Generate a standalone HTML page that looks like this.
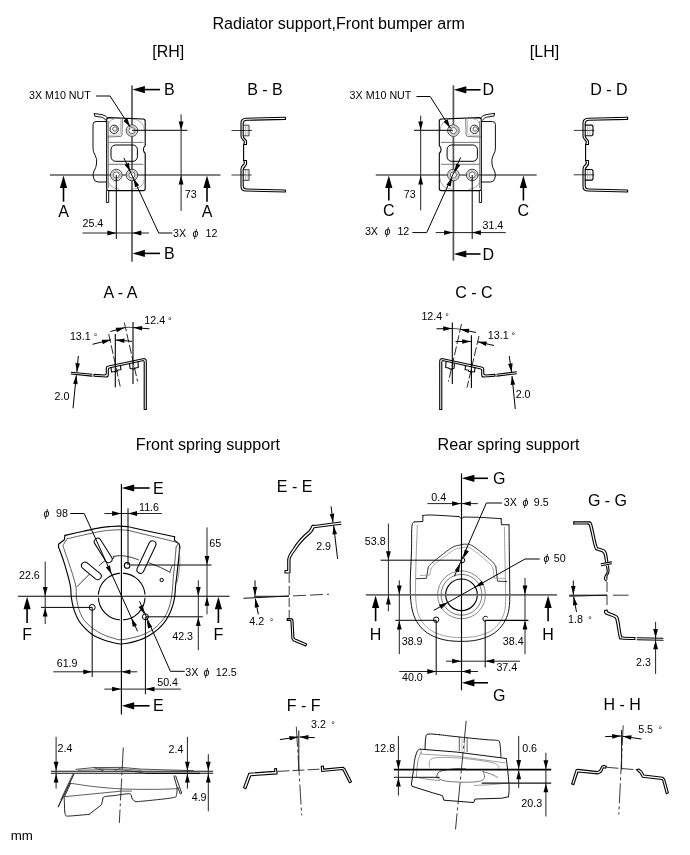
<!DOCTYPE html>
<html><head><meta charset="utf-8"><title>Body dimensions</title>
<style>html,body{margin:0;padding:0;background:#fff}svg{display:block;filter:grayscale(1)}text{font-family:"Liberation Sans",sans-serif;fill:#000}</style>
</head><body>
<svg width="690" height="855" viewBox="0 0 690 855">
<rect width="690" height="855" fill="#fff"/>
<text x="338.7" y="28.6" font-size="16.12" text-anchor="middle">Radiator support,Front bumper arm</text>
<text x="168.2" y="57" font-size="16" text-anchor="middle">[RH]</text>
<text x="544.5" y="57" font-size="16" text-anchor="middle">[LH]</text>
<text x="207.9" y="449.8" font-size="16.12" text-anchor="middle">Front spring support</text>
<text x="508.6" y="449.8" font-size="16.18" text-anchor="middle">Rear spring support</text>
<text x="10.8" y="840" font-size="13.3" text-anchor="start">mm</text>
<line x1="132" y1="85.5" x2="132" y2="261.7" stroke="#555" stroke-width="1.7"/>
<line x1="50" y1="175" x2="220.5" y2="175" stroke="#5a5a5a" stroke-width="1.7"/>
<line x1="160" y1="89.6" x2="138.4" y2="89.6" stroke="#000" stroke-width="1.6"/>
<polygon points="132.4,89.6 144.9,86 144.9,93.2" fill="#000"/>
<text x="164" y="94.8" font-size="16" text-anchor="start">B</text>
<line x1="160" y1="253.4" x2="138.4" y2="253.4" stroke="#000" stroke-width="1.6"/>
<polygon points="132.4,253.4 144.9,249.8 144.9,257" fill="#000"/>
<text x="164" y="259.1" font-size="16" text-anchor="start">B</text>
<line x1="63.5" y1="201.7" x2="63.5" y2="181.6" stroke="#000" stroke-width="1.6"/>
<polygon points="63.5,175.6 67.1,188.1 59.9,188.1" fill="#000"/>
<text x="63.5" y="216.8" font-size="16" text-anchor="middle">A</text>
<line x1="207" y1="201.7" x2="207" y2="181.6" stroke="#000" stroke-width="1.6"/>
<polygon points="207,175.6 210.6,188.1 203.4,188.1" fill="#000"/>
<text x="207" y="216.8" font-size="16" text-anchor="middle">A</text>
<path d="M106.7 121.5 L96 121.5 Q93 121.5 93 124.5 L93 148 Q93 152 95 155 Q97.5 159 96.5 164 Q96 168 94 171 Q92.5 174 93.5 178 Q94.5 182 98 182 L106.7 182" fill="none" stroke="#111" stroke-width="1" stroke-linejoin="round" stroke-linecap="round"/>
<path d="M94.3 113.6 L102 114.6 Q105.5 115.3 108 118.3" fill="none" stroke="#111" stroke-width="1" stroke-linejoin="round" stroke-linecap="round"/>
<path d="M94.3 113.6 L94.8 116.2 L101.5 117.2 Q104 117.8 105.8 120" fill="none" stroke="#111" stroke-width="1" stroke-linejoin="round" stroke-linecap="round"/>
<path d="M109 117.6 L143 119 Q145.2 119.1 145.2 121.2 L145.2 145.6 Q143.2 147.5 143.4 149.5 Q143.4 151.6 145.2 153.5 L145.2 188.4 Q145.2 190.6 143 190.6 L109 190.6 Q106.7 190.6 106.7 188.4 L106.7 119.8 Q106.7 117.6 109 117.6 Z" fill="none" stroke="#000" stroke-width="1.1" stroke-linejoin="round" stroke-linecap="round"/>
<line x1="108.3" y1="121" x2="108.3" y2="188" stroke="#555" stroke-width="0.8"/>
<line x1="108.5" y1="142.4" x2="143.5" y2="142.4" stroke="#555" stroke-width="0.8"/>
<line x1="108.5" y1="164.3" x2="143.5" y2="164.3" stroke="#555" stroke-width="0.8"/>
<rect x="111" y="145" width="26.4" height="16.3" rx="4.5" ry="4.5" fill="none" stroke="#000" stroke-width="1"/>
<path d="M133 119 Q144 120 144.6 131" fill="none" stroke="#888" stroke-width="0.7" stroke-linejoin="round" stroke-linecap="round"/>
<path d="M144.6 178 Q144 188.5 133 189.3" fill="none" stroke="#888" stroke-width="0.7" stroke-linejoin="round" stroke-linecap="round"/>
<path d="M107.5 178 Q108.5 188.5 119 189.3" fill="none" stroke="#888" stroke-width="0.7" stroke-linejoin="round" stroke-linecap="round"/>
<path d="M107.6 127 Q108.5 120 114 119" fill="none" stroke="#888" stroke-width="0.7" stroke-linejoin="round" stroke-linecap="round"/>
<path d="M122.4 118.5 L122 134.5 Q122 136.5 120 136.5 L107 137" fill="none" stroke="#666" stroke-width="0.9" stroke-linejoin="round" stroke-linecap="round"/>
<path d="M120.8 118.5 L120.4 133.5 Q120.4 135 119 135 L107.5 135.4" fill="none" stroke="#999" stroke-width="0.6" stroke-linejoin="round" stroke-linecap="round"/>
<circle cx="114.2" cy="129.3" r="4.2" fill="none" stroke="#222" stroke-width="1"/>
<circle cx="114.9" cy="129" r="2.2" fill="none" stroke="#444" stroke-width="0.9"/>
<circle cx="131.9" cy="130.6" r="5.8" fill="#fff" stroke="#444" stroke-width="1"/>
<circle cx="131.9" cy="130.6" r="4.4" fill="none" stroke="#aaa" stroke-width="0.9"/>
<circle cx="131.9" cy="130.6" r="3.1" fill="none" stroke="#555" stroke-width="0.9"/>
<circle cx="116.3" cy="175" r="5.8" fill="#fff" stroke="#444" stroke-width="1"/>
<circle cx="116.3" cy="175" r="4.4" fill="none" stroke="#aaa" stroke-width="0.9"/>
<circle cx="116.3" cy="175" r="3.1" fill="none" stroke="#555" stroke-width="0.9"/>
<circle cx="131.9" cy="175" r="5.8" fill="#fff" stroke="#444" stroke-width="1"/>
<circle cx="131.9" cy="175" r="4.4" fill="none" stroke="#aaa" stroke-width="0.9"/>
<circle cx="131.9" cy="175" r="3.1" fill="none" stroke="#555" stroke-width="0.9"/>
<path d="M106.4 190.6 L106.4 202.5 L108.7 202.5 L108.7 190.6" fill="none" stroke="#111" stroke-width="1" stroke-linejoin="round" stroke-linecap="round"/>
<text x="29" y="98.6" font-size="10.7" text-anchor="start">3X M10 NUT</text>
<line x1="96" y1="96" x2="110" y2="96" stroke="#000" stroke-width="1"/>
<line x1="110" y1="96" x2="130.2" y2="127" stroke="#000" stroke-width="1"/>
<polygon points="130.2,127 123.47,120.88 127.32,118.37" fill="#000"/>
<line x1="132" y1="130.3" x2="187.4" y2="130.3" stroke="#000" stroke-width="1"/>
<line x1="181.1" y1="114.4" x2="181.1" y2="210.9" stroke="#222" stroke-width="1"/>
<polygon points="181.1,130.3 178.7,121.4 183.5,121.4" fill="#000"/>
<polygon points="181.1,175.6 183.5,184.5 178.7,184.5" fill="#000"/>
<text x="184.8" y="198.4" font-size="10.7" text-anchor="start">73</text>
<line x1="116.3" y1="175" x2="116.3" y2="239" stroke="#000" stroke-width="1"/>
<line x1="82.5" y1="233" x2="149" y2="233" stroke="#222" stroke-width="1"/>
<polygon points="116.3,233 107.4,235.4 107.4,230.6" fill="#000"/>
<polygon points="132.4,233 141.3,230.6 141.3,235.4" fill="#000"/>
<text x="82.5" y="227.3" font-size="10.7" text-anchor="start">25.4</text>
<path d="M124 158.2 L158.7 233 L172 233" fill="none" stroke="#000" stroke-width="1" stroke-linejoin="round" stroke-linecap="round"/>
<polygon points="130.4,171.7 124.61,164.69 128.78,162.75" fill="#000"/>
<polygon points="133.4,178.3 139.19,185.31 135.02,187.25" fill="#000"/>
<text x="173" y="237" font-size="10.7">3X<tspan dx="6.5" font-style="italic">&#981;</tspan><tspan dx="7">12</tspan></text>
<text x="265" y="94.6" font-size="16" text-anchor="middle">B - B</text>
<line x1="231.5" y1="130.5" x2="252" y2="130.5" stroke="#222" stroke-width="0.9"/>
<line x1="231.5" y1="175" x2="251.5" y2="175" stroke="#222" stroke-width="0.9"/>
<path d="M285.4 117.3 L246 118.2 Q241 118.4 241 123 L241 136 Q241 138.5 243 140 Q245 141.5 244 143.5 L243.6 144.5 L243.6 160.5 L244 161.5 Q245 163.5 243 165 Q241 166.5 241 169 L241 186.5 Q241 191 246 191 L285.4 192 L285.4 190 L247 189 Q243.2 189 243.2 186 L243.2 170 Q243.2 168 245 166.5 Q247 165 246.5 162 L246.5 160.5 L244 160.5" fill="none" stroke="#000" stroke-width="1.1" stroke-linejoin="round" stroke-linecap="round"/>
<path d="M244 144.5 L246.5 144.5 L246.5 143 Q247 140.5 245 139 Q243.2 137.5 243.2 135.5 L243.2 123.5 Q243.2 120.4 247 120.3 L285.4 119.4 L285.4 117.3" fill="none" stroke="#000" stroke-width="1.1" stroke-linejoin="round" stroke-linecap="round"/>
<path d="M243.2 125.2 L249 125.2 L249 135.8 L243.2 135.8" fill="none" stroke="#222" stroke-width="0.9" stroke-linejoin="round" stroke-linecap="round"/>
<line x1="245.5" y1="125.5" x2="245.5" y2="135.5" stroke="#888" stroke-width="0.6"/>
<line x1="247.3" y1="125.5" x2="247.3" y2="135.5" stroke="#aaa" stroke-width="0.6"/>
<path d="M243.2 169.7 L249 169.7 L249 180.3 L243.2 180.3" fill="none" stroke="#222" stroke-width="0.9" stroke-linejoin="round" stroke-linecap="round"/>
<line x1="245.5" y1="170" x2="245.5" y2="180" stroke="#888" stroke-width="0.6"/>
<line x1="247.3" y1="170" x2="247.3" y2="180" stroke="#aaa" stroke-width="0.6"/>
<line x1="453.4" y1="85.3" x2="453.4" y2="260.7" stroke="#555" stroke-width="1.7"/>
<line x1="375.7" y1="175" x2="536.7" y2="175" stroke="#5a5a5a" stroke-width="1.7"/>
<line x1="480.5" y1="89.8" x2="459.8" y2="89.8" stroke="#000" stroke-width="1.6"/>
<polygon points="453.8,89.8 466.3,86.2 466.3,93.4" fill="#000"/>
<text x="482.5" y="94.9" font-size="16" text-anchor="start">D</text>
<line x1="480.5" y1="254" x2="459.8" y2="254" stroke="#000" stroke-width="1.6"/>
<polygon points="453.8,254 466.3,250.4 466.3,257.6" fill="#000"/>
<text x="482.5" y="259.7" font-size="16" text-anchor="start">D</text>
<line x1="388.8" y1="200.5" x2="388.8" y2="181.6" stroke="#000" stroke-width="1.6"/>
<polygon points="388.8,175.6 392.4,188.1 385.2,188.1" fill="#000"/>
<text x="388.8" y="216" font-size="16" text-anchor="middle">C</text>
<line x1="523.4" y1="200.5" x2="523.4" y2="181.6" stroke="#000" stroke-width="1.6"/>
<polygon points="523.4,175.6 527,188.1 519.8,188.1" fill="#000"/>
<text x="523.4" y="216" font-size="16" text-anchor="middle">C</text>
<path d="M481.3 121.5 L492.4 121.5 Q495.4 121.5 495.4 124.5 L495.4 148 Q495.4 152 493.4 155 Q491 159 492 164 Q492.5 168 494.5 171 Q496 174 495 178 Q494 182 490.5 182 L481.3 182" fill="none" stroke="#111" stroke-width="1" stroke-linejoin="round" stroke-linecap="round"/>
<path d="M494.6 113.4 L486 114.6 Q482.5 115.3 480.3 118.3" fill="none" stroke="#111" stroke-width="1" stroke-linejoin="round" stroke-linecap="round"/>
<path d="M494.6 113.4 L494.1 116 L486.6 117.2 Q484.2 117.8 482.5 120" fill="none" stroke="#111" stroke-width="1" stroke-linejoin="round" stroke-linecap="round"/>
<path d="M441.5 119 L479 117.6 Q481.3 117.6 481.3 119.8 L481.3 188.4 Q481.3 190.6 479 190.6 L441.5 190.6 Q439.3 190.6 439.3 188.4 L439.3 153.5 Q441.1 151.6 441.1 149.5 Q441.3 147.5 439.3 145.6 L439.3 121.2 Q439.3 119.1 441.5 119 Z" fill="none" stroke="#000" stroke-width="1.1" stroke-linejoin="round" stroke-linecap="round"/>
<line x1="479.7" y1="121" x2="479.7" y2="188" stroke="#555" stroke-width="0.8"/>
<line x1="441" y1="142.4" x2="479.5" y2="142.4" stroke="#555" stroke-width="0.8"/>
<line x1="441" y1="164.3" x2="479.5" y2="164.3" stroke="#555" stroke-width="0.8"/>
<rect x="447.1" y="145" width="30.3" height="16.3" rx="4.5" ry="4.5" fill="none" stroke="#000" stroke-width="1"/>
<path d="M451.5 119 Q440.5 120 439.9 131" fill="none" stroke="#888" stroke-width="0.7" stroke-linejoin="round" stroke-linecap="round"/>
<path d="M439.9 178 Q440.5 188.5 451.5 189.3" fill="none" stroke="#888" stroke-width="0.7" stroke-linejoin="round" stroke-linecap="round"/>
<path d="M480.5 178 Q479.5 188.5 469 189.3" fill="none" stroke="#888" stroke-width="0.7" stroke-linejoin="round" stroke-linecap="round"/>
<path d="M480.4 127 Q479.5 120 474 119" fill="none" stroke="#888" stroke-width="0.7" stroke-linejoin="round" stroke-linecap="round"/>
<path d="M465.7 118.5 L466.1 134.5 Q466.1 136.5 468.1 136.5 L481 137" fill="none" stroke="#666" stroke-width="0.9" stroke-linejoin="round" stroke-linecap="round"/>
<path d="M467.3 118.5 L467.7 133.5 Q467.7 135 469.1 135 L480.5 135.4" fill="none" stroke="#999" stroke-width="0.6" stroke-linejoin="round" stroke-linecap="round"/>
<circle cx="474.5" cy="129.3" r="4.2" fill="none" stroke="#222" stroke-width="1"/>
<circle cx="475.2" cy="129" r="2.2" fill="none" stroke="#444" stroke-width="0.9"/>
<circle cx="453.4" cy="130.6" r="5.8" fill="#fff" stroke="#444" stroke-width="1"/>
<circle cx="453.4" cy="130.6" r="4.4" fill="none" stroke="#aaa" stroke-width="0.9"/>
<circle cx="453.4" cy="130.6" r="3.1" fill="none" stroke="#555" stroke-width="0.9"/>
<circle cx="453.4" cy="175" r="5.8" fill="#fff" stroke="#444" stroke-width="1"/>
<circle cx="453.4" cy="175" r="4.4" fill="none" stroke="#aaa" stroke-width="0.9"/>
<circle cx="453.4" cy="175" r="3.1" fill="none" stroke="#555" stroke-width="0.9"/>
<circle cx="472.2" cy="175" r="5.8" fill="#fff" stroke="#444" stroke-width="1"/>
<circle cx="472.2" cy="175" r="4.4" fill="none" stroke="#aaa" stroke-width="0.9"/>
<circle cx="472.2" cy="175" r="3.1" fill="none" stroke="#555" stroke-width="0.9"/>
<path d="M481.6 190.6 L481.6 202.5 L479.3 202.5 L479.3 190.6" fill="none" stroke="#111" stroke-width="1" stroke-linejoin="round" stroke-linecap="round"/>
<text x="349.6" y="98.7" font-size="10.7" text-anchor="start">3X M10 NUT</text>
<line x1="416.5" y1="96.5" x2="430.2" y2="96.5" stroke="#000" stroke-width="1"/>
<line x1="430.2" y1="96.5" x2="450.3" y2="128" stroke="#000" stroke-width="1"/>
<polygon points="450.3,128 443.63,121.82 447.51,119.34" fill="#000"/>
<line x1="414" y1="130.3" x2="453" y2="130.3" stroke="#000" stroke-width="1"/>
<line x1="420.7" y1="115.6" x2="420.7" y2="210.3" stroke="#222" stroke-width="1"/>
<polygon points="420.7,130.3 418.3,121.4 423.1,121.4" fill="#000"/>
<polygon points="420.7,175.6 423.1,184.5 418.3,184.5" fill="#000"/>
<text x="403.8" y="198.3" font-size="10.7" text-anchor="start">73</text>
<line x1="472.2" y1="175" x2="472.2" y2="239" stroke="#000" stroke-width="1"/>
<line x1="435.7" y1="232.6" x2="505.8" y2="232.6" stroke="#222" stroke-width="1"/>
<polygon points="453,232.6 444.1,235 444.1,230.2" fill="#000"/>
<polygon points="472,232.6 480.9,230.2 480.9,235" fill="#000"/>
<text x="482.5" y="228.5" font-size="10.7" text-anchor="start">31.4</text>
<path d="M412.7 232.6 L426.7 232.6 L460.5 157.7" fill="none" stroke="#000" stroke-width="1" stroke-linejoin="round" stroke-linecap="round"/>
<polygon points="454.6,172.4 456.12,163.43 460.32,165.32" fill="#000"/>
<polygon points="452.2,177.6 450.68,186.57 446.48,184.68" fill="#000"/>
<text x="364.9" y="235.3" font-size="10.7">3X<tspan dx="6.5" font-style="italic">&#981;</tspan><tspan dx="7">12</tspan></text>
<text x="609" y="94.6" font-size="16" text-anchor="middle">D - D</text>
<line x1="573.7" y1="130.4" x2="594.3" y2="130.4" stroke="#222" stroke-width="0.9"/>
<line x1="573.7" y1="174.8" x2="594.3" y2="174.8" stroke="#222" stroke-width="0.9"/>
<path d="M627.6 117.3 L588 118.2 Q583 118.4 583 123 L583 136 Q583 138.5 585 140 Q587 141.5 586 143.5 L585.6 144.5 L585.6 160.5 L586 161.5 Q587 163.5 585 165 Q583 166.5 583 169 L583 186.5 Q583 191 588 191 L627.6 192 L627.6 190 L589 189 Q585.2 189 585.2 186 L585.2 170 Q585.2 168 587 166.5 Q589 165 588.5 162 L588.5 160.5 L586 160.5" fill="none" stroke="#000" stroke-width="1.1" stroke-linejoin="round" stroke-linecap="round"/>
<path d="M586 144.5 L588.5 144.5 L588.5 143 Q589 140.5 587 139 Q585.2 137.5 585.2 135.5 L585.2 123.5 Q585.2 120.4 589 120.3 L627.6 119.4 L627.6 117.3" fill="none" stroke="#000" stroke-width="1.1" stroke-linejoin="round" stroke-linecap="round"/>
<path d="M585.2 125.1 L592 125.1 L593 126.4 L593 134.4 L592 135.7 L585.2 135.7" fill="none" stroke="#000" stroke-width="1.1" stroke-linejoin="round" stroke-linecap="round"/>
<line x1="587.5" y1="125.4" x2="587.5" y2="135.4" stroke="#888" stroke-width="0.6"/>
<line x1="590" y1="125.4" x2="590" y2="135.4" stroke="#999" stroke-width="0.6"/>
<path d="M585.2 169.5 L592 169.5 L593 170.8 L593 178.8 L592 180.1 L585.2 180.1" fill="none" stroke="#000" stroke-width="1.1" stroke-linejoin="round" stroke-linecap="round"/>
<line x1="587.5" y1="169.8" x2="587.5" y2="179.8" stroke="#888" stroke-width="0.6"/>
<line x1="590" y1="169.8" x2="590" y2="179.8" stroke="#999" stroke-width="0.6"/>
<text x="120.5" y="298.1" font-size="16" text-anchor="middle">A - A</text>
<path d="M71.3 372.2 L92 374.3" fill="none" stroke="#000" stroke-width="1.1" stroke-linejoin="round" stroke-linecap="round"/>
<path d="M71.3 374 L92 376.1" fill="none" stroke="#000" stroke-width="1.1" stroke-linejoin="round" stroke-linecap="round"/>
<path d="M94 374.4 L104.5 375 Q106.3 375 106.3 373 L106.3 368 Q106.3 366.3 108.5 366 L143 358.7 Q146.3 358.3 146.3 361.5 L146.3 409.5 L144.2 409.5 L144.2 362 Q144.2 360.3 142.5 360.7 L110 367.7 Q108.3 368 108.3 369.5 L108.3 375 Q108.3 377 106.3 377 L94 376.3 Z" fill="none" stroke="#000" stroke-width="1.1" stroke-linejoin="round" stroke-linecap="round"/>
<path d="M111 367.6 L111.5 372 L117.4 371.3 L117.7 370 L120.9 369.7 L120.5 365.6" fill="none" stroke="#000" stroke-width="1.1" stroke-linejoin="round" stroke-linecap="round"/>
<path d="M129.6 363.6 L130 368.3 L133.3 369.3 L135.5 368 L138.3 367.5 L138 361.8" fill="none" stroke="#000" stroke-width="1.1" stroke-linejoin="round" stroke-linecap="round"/>
<line x1="115.3" y1="334" x2="115.3" y2="387.3" stroke="#000" stroke-width="1.1"/>
<line x1="133" y1="322" x2="133" y2="384" stroke="#000" stroke-width="1.1"/>
<line x1="108.7" y1="334" x2="120.2" y2="386.5" stroke="#111" stroke-width="0.9" stroke-dasharray="9 2.5"/>
<line x1="124.3" y1="322.5" x2="137.6" y2="381.5" stroke="#111" stroke-width="0.9" stroke-dasharray="9 2.5"/>
<line x1="110.5" y1="331.5" x2="124.8" y2="327.6" stroke="#000" stroke-width="1"/>
<polygon points="124.8,327.6 116.92,332.13 115.7,327.7" fill="#000"/>
<line x1="149.5" y1="328.8" x2="133.3" y2="327.6" stroke="#000" stroke-width="1"/>
<polygon points="133.3,327.6 142.25,325.96 141.91,330.54" fill="#000"/>
<path d="M124.8 327.6 Q129 326.8 133.3 327.6" fill="none" stroke="#222" stroke-width="0.8" stroke-linejoin="round" stroke-linecap="round"/>
<text x="144.3" y="324.2" font-size="10.7">12.4<tspan dx="3" font-size="9">&#176;</tspan></text>
<line x1="92.5" y1="344.3" x2="110.8" y2="339.8" stroke="#000" stroke-width="1"/>
<polygon points="110.8,339.8 102.8,344.13 101.71,339.67" fill="#000"/>
<line x1="132" y1="341.3" x2="115.6" y2="340" stroke="#000" stroke-width="1"/>
<polygon points="115.6,340 124.55,338.4 124.19,342.99" fill="#000"/>
<text x="69.9" y="340.1" font-size="10.7">13.1<tspan dx="3" font-size="9">&#176;</tspan></text>
<line x1="78.3" y1="356" x2="76.9" y2="372" stroke="#000" stroke-width="1"/>
<polygon points="76.9,372 75.38,363.03 79.96,363.43" fill="#000"/>
<line x1="73" y1="408.3" x2="76.3" y2="375.3" stroke="#000" stroke-width="1"/>
<polygon points="76.3,375.3 77.71,384.29 73.14,383.83" fill="#000"/>
<text x="54.5" y="400.4" font-size="10.7" text-anchor="start">2.0</text>
<text x="474" y="298" font-size="16" text-anchor="middle">C - C</text>
<path d="M516.5 371.8 L496.8 374.2" fill="none" stroke="#000" stroke-width="1.1" stroke-linejoin="round" stroke-linecap="round"/>
<path d="M516.5 373.7 L496.8 376.1" fill="none" stroke="#000" stroke-width="1.1" stroke-linejoin="round" stroke-linecap="round"/>
<path d="M495 374.4 L485.5 375 Q483.7 375 483.7 373 L483.7 369 Q483.7 367.3 481.5 367 L443 358.7 Q439.7 358.3 439.7 361.5 L439.7 409.5 L441.8 409.5 L441.8 362 Q441.8 360.3 443.5 360.7 L480 368.7 Q481.7 369 481.7 370.5 L481.7 375 Q481.7 377 483.7 377 L495 376.3 Z" fill="none" stroke="#000" stroke-width="1.1" stroke-linejoin="round" stroke-linecap="round"/>
<path d="M446 361.8 L445.7 367.5 L448.5 368 L450.7 369.3 L454 368.3 L454.4 363.6" fill="none" stroke="#000" stroke-width="1.1" stroke-linejoin="round" stroke-linecap="round"/>
<path d="M465.5 365.6 L465.1 369.7 L468.3 370 L468.6 371.3 L474.5 372 L475 367.6" fill="none" stroke="#000" stroke-width="1.1" stroke-linejoin="round" stroke-linecap="round"/>
<line x1="452.3" y1="322.5" x2="452.3" y2="384" stroke="#000" stroke-width="1.1"/>
<line x1="471.4" y1="335.3" x2="471.4" y2="388" stroke="#000" stroke-width="1.1"/>
<line x1="461.5" y1="324" x2="448.5" y2="381.5" stroke="#111" stroke-width="0.9" stroke-dasharray="9 2.5"/>
<line x1="479" y1="336" x2="467" y2="387.5" stroke="#111" stroke-width="0.9" stroke-dasharray="9 2.5"/>
<line x1="436.5" y1="328.8" x2="452" y2="328.5" stroke="#000" stroke-width="1"/>
<polygon points="452,328.5 443.25,330.97 443.16,326.37" fill="#000"/>
<line x1="476" y1="332.5" x2="460.3" y2="329.3" stroke="#000" stroke-width="1"/>
<polygon points="460.3,329.3 469.38,328.8 468.46,333.31" fill="#000"/>
<path d="M452 328.5 Q456 328.3 460.3 329.3" fill="none" stroke="#222" stroke-width="0.8" stroke-linejoin="round" stroke-linecap="round"/>
<text x="421.4" y="320" font-size="10.7">12.4<tspan dx="3" font-size="9">&#176;</tspan></text>
<line x1="455.5" y1="341.5" x2="471" y2="341.5" stroke="#000" stroke-width="1"/>
<polygon points="471,341.5 462.2,343.8 462.2,339.2" fill="#000"/>
<line x1="494" y1="345.5" x2="477.8" y2="341.8" stroke="#000" stroke-width="1"/>
<polygon points="477.8,341.8 486.89,341.52 485.87,346" fill="#000"/>
<text x="487.8" y="338.7" font-size="10.7">13.1<tspan dx="3" font-size="9">&#176;</tspan></text>
<line x1="509.2" y1="356" x2="511.6" y2="372.3" stroke="#000" stroke-width="1"/>
<polygon points="511.6,372.3 508.04,363.93 512.59,363.26" fill="#000"/>
<line x1="515.3" y1="409" x2="512" y2="376" stroke="#000" stroke-width="1"/>
<polygon points="512,376 515.16,384.53 510.59,384.99" fill="#000"/>
<text x="515.7" y="397.5" font-size="10.7" text-anchor="start">2.0</text>
<path d="M65.2 535.4 C68.25 534.7 77.58 532.5 83.5 531.2 C89.42 529.9 96.13 528.38 100.7 527.6 C105.27 526.82 107.85 526.75 110.9 526.5 C113.95 526.25 116.13 526.07 119 526.1 C121.87 526.13 125.07 526.25 128.1 526.7 C131.13 527.15 132.63 527.8 137.2 528.8 C141.77 529.8 149.27 531.38 155.5 532.7 C161.73 534.02 171.42 536.03 174.6 536.7" fill="none" stroke="#000" stroke-width="1.15" stroke-linejoin="round" stroke-linecap="round"/>
<path d="M174.6 536.7 L174.4 540.3 L179.13 543.86 L179.83 547.1" fill="none" stroke="#000" stroke-width="1.15" stroke-linejoin="round" stroke-linecap="round"/>
<path d="M179.83 547.1 C179.56 549.81 178.78 557.92 178.2 563.33 C177.62 568.74 176.78 575.95 176.35 579.57 C175.91 583.18 175.86 582.23 175.6 585 C175.34 587.77 175.27 592.82 174.8 596.2 C174.33 599.58 173.82 602.1 172.8 605.3 C171.78 608.5 170.4 612.18 168.7 615.4 C167 618.62 165.13 621.72 162.6 624.6 C160.07 627.48 157.22 630.17 153.5 632.7 C149.78 635.23 145.63 637.92 140.3 639.8 C134.97 641.68 126.58 643.67 121.5 644 C116.42 644.33 113.27 642.67 109.8 641.8 C106.33 640.93 103.58 639.98 100.7 638.8 C97.82 637.62 95.05 636.4 92.5 634.7 C89.95 633 87.6 630.8 85.4 628.6 C83.2 626.4 80.98 624.03 79.3 621.5 C77.62 618.97 76.38 616.1 75.3 613.4 C74.22 610.7 73.48 608.17 72.8 605.3 C72.12 602.43 71.63 599.58 71.2 596.2 C70.77 592.82 71.34 590.48 70.2 585 C69.06 579.52 66.29 569.65 64.35 563.33 C62.41 557.02 59.52 549.81 58.55 547.1" fill="none" stroke="#000" stroke-width="1.15" stroke-linejoin="round" stroke-linecap="round"/>
<path d="M58.55 547.1 L58.55 544.32 L64.35 539.68 L65.04 535.04" fill="none" stroke="#000" stroke-width="1.15" stroke-linejoin="round" stroke-linecap="round"/>
<path d="M67.5 538.7 C70.17 538.08 77.97 536.22 83.5 535 C89.03 533.78 96.13 532.2 100.7 531.4 C105.27 530.6 107.85 530.47 110.9 530.2 C113.95 529.93 116.13 529.77 119 529.8 C121.87 529.83 125.07 529.93 128.1 530.4 C131.13 530.87 132.63 531.5 137.2 532.6 C141.77 533.7 149.27 535.47 155.5 537 C161.73 538.53 170.82 540.67 174.6 541.8 C178.38 542.93 177.6 543.47 178.2 543.8" fill="none" stroke="#333" stroke-width="0.8" stroke-linejoin="round" stroke-linecap="round"/>
<path d="M176.12 547.1 C175.88 549.81 175.23 557.92 174.72 563.33 C174.22 568.74 173.42 575.95 173.1 579.57 C172.78 583.18 173.03 582.23 172.8 585 C172.57 587.77 172.22 592.82 171.7 596.2 C171.18 599.58 170.62 602.27 169.7 605.3 C168.78 608.33 167.72 611.53 166.2 614.4 C164.68 617.27 162.88 619.97 160.6 622.5 C158.32 625.03 155.88 627.4 152.5 629.6 C149.12 631.8 145.38 634.02 140.3 635.7 C135.22 637.38 126.42 639.27 122 639.7 C117.58 640.13 116.52 638.97 113.8 638.3 C111.08 637.63 108.4 636.8 105.7 635.7 C103 634.6 100.13 633.22 97.6 631.7 C95.07 630.18 92.7 628.47 90.5 626.6 C88.3 624.73 86.08 622.7 84.4 620.5 C82.72 618.3 81.5 615.93 80.4 613.4 C79.3 610.87 78.48 608.17 77.8 605.3 C77.12 602.43 76.67 599.58 76.3 596.2 C75.93 592.82 76.82 590.48 75.6 585 C74.38 579.52 71.02 569.65 68.99 563.33 C66.96 557.02 64.31 550.27 63.42 547.1 C62.53 543.93 63 545.79 63.65 544.32 C64.31 542.85 66.74 539.29 67.36 538.29" fill="none" stroke="#333" stroke-width="0.8" stroke-linejoin="round" stroke-linecap="round"/>
<path d="M178.2 543.8 L176.12 547.1" fill="none" stroke="#333" stroke-width="0.8" stroke-linejoin="round" stroke-linecap="round"/>
<path d="M179.13 547.1 C179.25 549.81 180.06 557.92 179.83 563.33 C179.59 568.74 178.44 575.95 177.74 579.57 C177.03 583.18 175.96 584.09 175.6 585" fill="none" stroke="#666" stroke-width="0.7" stroke-linejoin="round" stroke-linecap="round"/>
<path d="M77.1 586.52 L89.86 573.77" fill="none" stroke="#111" stroke-width="0.85" stroke-linejoin="round" stroke-linecap="round"/>
<path d="M99.13 565.65 C99.79 565.07 101.72 563.22 103.07 562.17 C104.43 561.13 106.55 559.86 107.25 559.39" fill="none" stroke="#111" stroke-width="0.85" stroke-linejoin="round" stroke-linecap="round"/>
<path d="M107.25 559.39 L113.74 558.23 L113.74 556.38" fill="none" stroke="#111" stroke-width="0.85" stroke-linejoin="round" stroke-linecap="round"/>
<path d="M113.74 556.38 C115.05 556.26 118.65 555.49 121.62 555.68 C124.6 555.87 128.77 556.84 131.59 557.54 C134.42 558.23 137.39 559.47 138.55 559.86" fill="none" stroke="#111" stroke-width="0.85" stroke-linejoin="round" stroke-linecap="round"/>
<path d="M148.99 562.87 C150.92 563.64 157.1 565.96 160.58 567.51 C164.06 569.05 168.31 571.37 169.86 572.14" fill="none" stroke="#111" stroke-width="0.85" stroke-linejoin="round" stroke-linecap="round"/>
<path d="M169.86 572.14 L172.17 565.65" fill="none" stroke="#222" stroke-width="0.8" stroke-linejoin="round" stroke-linecap="round"/>
<line x1="97.74" y1="541.77" x2="108.64" y2="559.16" stroke="#000" stroke-width="8" stroke-linecap="round"/>
<line x1="97.74" y1="541.77" x2="108.64" y2="559.16" stroke="#fff" stroke-width="6" stroke-linecap="round"/>
<line x1="84.99" y1="565.65" x2="97.74" y2="576.09" stroke="#000" stroke-width="8" stroke-linecap="round"/>
<line x1="84.99" y1="565.65" x2="97.74" y2="576.09" stroke="#fff" stroke-width="6" stroke-linecap="round"/>
<line x1="152.46" y1="544.32" x2="140.41" y2="569.83" stroke="#000" stroke-width="8" stroke-linecap="round"/>
<line x1="152.46" y1="544.32" x2="140.41" y2="569.83" stroke="#fff" stroke-width="6" stroke-linecap="round"/>
<circle cx="121.7" cy="596.5" r="23.4" fill="#fff" stroke="#000" stroke-width="1.1"/>
<circle cx="127.1" cy="565.4" r="2.8" fill="#fff" stroke="#000" stroke-width="1.1"/>
<circle cx="92.2" cy="607.4" r="3" fill="#fff" stroke="#000" stroke-width="1"/>
<circle cx="145.4" cy="616.8" r="3" fill="#fff" stroke="#000" stroke-width="1"/>
<circle cx="161.7" cy="580" r="1.7" fill="#fff" stroke="#000" stroke-width="1"/>
<line x1="121.4" y1="570" x2="121.4" y2="575" stroke="#fff" stroke-width="3.2"/>
<line x1="121.4" y1="618" x2="121.4" y2="623" stroke="#fff" stroke-width="3.2"/>
<line x1="95" y1="596.2" x2="100" y2="596.2" stroke="#fff" stroke-width="3.2"/>
<line x1="143" y1="596.2" x2="148" y2="596.2" stroke="#fff" stroke-width="3.2"/>
<line x1="121.4" y1="484" x2="121.4" y2="714.5" stroke="#000" stroke-width="1.15"/>
<line x1="18" y1="596.2" x2="229.6" y2="596.2" stroke="#000" stroke-width="1.15"/>
<line x1="149.6" y1="488" x2="127.7" y2="488" stroke="#000" stroke-width="1.6"/>
<polygon points="121.7,488 134.2,484.4 134.2,491.6" fill="#000"/>
<text x="153" y="494.3" font-size="16" text-anchor="start">E</text>
<line x1="149.6" y1="705.8" x2="127.7" y2="705.8" stroke="#000" stroke-width="1.6"/>
<polygon points="121.7,705.8 134.2,702.2 134.2,709.4" fill="#000"/>
<text x="153" y="711.3" font-size="16" text-anchor="start">E</text>
<line x1="27.1" y1="623" x2="27.1" y2="602.8" stroke="#000" stroke-width="1.6"/>
<polygon points="27.1,596.8 30.7,609.3 23.5,609.3" fill="#000"/>
<text x="27.1" y="640.4" font-size="16" text-anchor="middle">F</text>
<line x1="218.4" y1="623" x2="218.4" y2="602.8" stroke="#000" stroke-width="1.6"/>
<polygon points="218.4,596.8 222,609.3 214.8,609.3" fill="#000"/>
<text x="218.4" y="640.4" font-size="16" text-anchor="middle">F</text>
<text x="43.5" y="517" font-size="10.7"><tspan font-style="italic">&#981;</tspan><tspan dx="6.5">98</tspan></text>
<path d="M70.6 513.5 L84.2 513.5 L137.4 631" fill="none" stroke="#000" stroke-width="1" stroke-linejoin="round" stroke-linecap="round"/>
<polygon points="111.5,574.34 105.78,567.27 109.97,565.37" fill="#000"/>
<polygon points="131.3,618.06 137.02,625.13 132.83,627.03" fill="#000"/>
<line x1="128" y1="565" x2="128" y2="508.3" stroke="#000" stroke-width="1"/>
<line x1="104.3" y1="513.5" x2="161.7" y2="513.5" stroke="#222" stroke-width="1"/>
<polygon points="121,513.5 112.1,515.9 112.1,511.1" fill="#000"/>
<polygon points="128.2,513.5 137.1,511.1 137.1,515.9" fill="#000"/>
<text x="139" y="510.7" font-size="10.7" text-anchor="start">11.6</text>
<line x1="130.5" y1="565" x2="211.5" y2="565" stroke="#000" stroke-width="1"/>
<line x1="207" y1="527.4" x2="207" y2="614.3" stroke="#222" stroke-width="1"/>
<polygon points="207,565 204.6,556.1 209.4,556.1" fill="#000"/>
<polygon points="207,596.8 209.4,605.7 204.6,605.7" fill="#000"/>
<text x="209.2" y="546.5" font-size="10.7" text-anchor="start">65</text>
<line x1="41" y1="607.4" x2="92.2" y2="607.4" stroke="#000" stroke-width="1"/>
<line x1="45.2" y1="561.5" x2="45.2" y2="624" stroke="#222" stroke-width="1"/>
<polygon points="45.2,596 42.8,587.1 47.6,587.1" fill="#000"/>
<polygon points="45.2,607.7 47.6,616.6 42.8,616.6" fill="#000"/>
<text x="19" y="578.5" font-size="10.7" text-anchor="start">22.6</text>
<line x1="146.5" y1="616.8" x2="202.8" y2="616.8" stroke="#000" stroke-width="1"/>
<line x1="198.3" y1="580.3" x2="198.3" y2="650.2" stroke="#222" stroke-width="1"/>
<polygon points="198.3,596 195.9,587.1 200.7,587.1" fill="#000"/>
<polygon points="198.3,617.2 200.7,626.1 195.9,626.1" fill="#000"/>
<text x="172.2" y="639.7" font-size="10.7" text-anchor="start">42.3</text>
<line x1="92.2" y1="607.4" x2="92.2" y2="677" stroke="#000" stroke-width="1"/>
<line x1="53.3" y1="671.8" x2="137.4" y2="671.8" stroke="#222" stroke-width="1"/>
<polygon points="92.2,671.8 83.3,674.2 83.3,669.4" fill="#000"/>
<polygon points="121.5,671.8 130.4,669.4 130.4,674.2" fill="#000"/>
<text x="56.7" y="666.9" font-size="10.7" text-anchor="start">61.9</text>
<line x1="145.4" y1="616.8" x2="145.4" y2="694.3" stroke="#000" stroke-width="1"/>
<line x1="104.3" y1="689.1" x2="180.9" y2="689.1" stroke="#222" stroke-width="1"/>
<polygon points="121,689.1 112.1,691.5 112.1,686.7" fill="#000"/>
<polygon points="145.6,689.1 154.5,686.7 154.5,691.5" fill="#000"/>
<text x="157.2" y="685.8" font-size="10.7" text-anchor="start">50.4</text>
<path d="M184.3 671.3 L170.4 671.3 L139.7 601.6" fill="none" stroke="#000" stroke-width="1" stroke-linejoin="round" stroke-linecap="round"/>
<polygon points="144.19,614.05 138.54,606.93 142.75,605.07" fill="#000"/>
<polygon points="146.61,619.55 152.26,626.67 148.05,628.53" fill="#000"/>
<text x="185.3" y="675.8" font-size="10.7">3X<tspan dx="5" font-style="italic">&#981;</tspan><tspan dx="6.5">12.5</tspan></text>
<text x="294.6" y="491.7" font-size="16" text-anchor="middle">E - E</text>
<path d="M340.7 522 L314.5 525.5 Q313 524.5 311.8 526 Q310.8 528.5 309 531 Q299 539 293 549 Q288.2 555.5 287.7 559.5 L287.7 570.5 L285 570.5 L285 573 L290 573 L290 559.5 Q290.5 556.5 295 550.5 Q301 541 310.8 533 Q313 530.5 314 527.8 L340.9 524.2" fill="none" stroke="#000" stroke-width="1.1" stroke-linejoin="round" stroke-linecap="round"/>
<g transform="translate(0.7,1.4)">
<path d="M286.5 619 L289.3 619 Q290.3 619 290.3 620.5 L291.2 637 Q291.5 638.8 293 639.5 L305 644.7 L306 642.6 L294.5 637.6 Q293.3 637 293.2 636 L292.3 619.5 Q292.2 617.2 290 617.2 L286.5 617.2 Z" fill="none" stroke="#000" stroke-width="1.1" stroke-linejoin="round" stroke-linecap="round"/>
</g>
<line x1="289.2" y1="574" x2="289.2" y2="618" stroke="#222" stroke-width="0.9" stroke-dasharray="9 3"/>
<line x1="243.4" y1="598.3" x2="289" y2="596" stroke="#111" stroke-width="1"/>
<line x1="254" y1="596.3" x2="289" y2="596.3" stroke="#111" stroke-width="1"/>
<line x1="293" y1="595.9" x2="329" y2="594.2" stroke="#222" stroke-width="0.9" stroke-dasharray="13 4"/>
<line x1="255" y1="580.4" x2="255" y2="595.8" stroke="#000" stroke-width="1"/>
<polygon points="255,595.8 252.7,587 257.3,587" fill="#000"/>
<line x1="258.3" y1="614.4" x2="255.3" y2="598.6" stroke="#000" stroke-width="1"/>
<polygon points="255.3,598.6 259.2,606.82 254.68,607.67" fill="#000"/>
<text x="249.3" y="624.7" font-size="10.7">4.2<tspan dx="5.5" font-size="9">&#176;</tspan></text>
<line x1="331.1" y1="506.3" x2="333" y2="522.6" stroke="#000" stroke-width="1"/>
<polygon points="333,522.6 329.7,514.13 334.27,513.59" fill="#000"/>
<line x1="337.6" y1="559" x2="333.7" y2="525.6" stroke="#000" stroke-width="1"/>
<polygon points="333.7,525.6 337.01,534.07 332.44,534.61" fill="#000"/>
<text x="316.2" y="549.6" font-size="10.7" text-anchor="start">2.9</text>
<path d="M414.34 521.91 C413.94 522.65 412.38 521.57 411.91 526.37 C411.43 531.17 411.77 541.58 411.5 550.71 C411.23 559.84 410.39 572.68 410.28 581.14 C410.18 589.59 410.28 595.67 410.89 601.42 C411.5 607.17 412.35 611.39 413.94 615.62 C415.52 619.84 417.65 623.56 420.43 626.77 C423.2 629.99 426.51 632.69 430.57 634.89 C434.62 637.09 439.63 638.88 444.77 639.96 C449.91 641.04 455.99 641.38 461.4 641.38 C466.81 641.38 472.22 641.04 477.22 639.96 C482.22 638.88 487.36 637.19 491.42 634.89 C495.48 632.59 498.86 629.55 501.56 626.17 C504.27 622.79 506.29 618.73 507.65 614.6 C509 610.48 509.34 607 509.68 601.42 C510.01 595.84 509.74 589.59 509.68 581.14 C509.61 572.68 509.37 559.67 509.27 550.71 C509.17 541.75 509.13 531.71 509.07 527.38 C509 523.06 508.9 525.19 508.86 524.75" fill="none" stroke="#111" stroke-width="1" stroke-linejoin="round" stroke-linecap="round"/>
<path d="M414.34 521.91 L422.86 521.5 L422.86 515.42" fill="none" stroke="#111" stroke-width="1" stroke-linejoin="round" stroke-linecap="round"/>
<path d="M422.86 515.42 C424.14 515.35 426.58 514.94 430.57 515.01 C434.56 515.08 442.06 515.55 446.8 515.82 C451.53 516.09 456.94 516.5 458.97 516.63" fill="none" stroke="#111" stroke-width="1" stroke-linejoin="round" stroke-linecap="round"/>
<path d="M458.97 516.63 C459.37 516.9 460.59 518.19 461.4 518.26 C462.21 518.32 463.43 517.24 463.83 517.04" fill="none" stroke="#111" stroke-width="1" stroke-linejoin="round" stroke-linecap="round"/>
<path d="M463.83 517.04 C466.74 517.11 475.06 517.17 481.28 517.44 C487.5 517.71 497.84 518.46 501.16 518.66" fill="none" stroke="#111" stroke-width="1" stroke-linejoin="round" stroke-linecap="round"/>
<path d="M501.16 518.66 L501.36 524.75 L508.86 524.75" fill="none" stroke="#111" stroke-width="1" stroke-linejoin="round" stroke-linecap="round"/>
<path d="M417.38 525.35 C417.21 529.58 416.67 541.41 416.37 550.71 C416.06 560.01 415.63 572.68 415.56 581.14 C415.49 589.59 415.49 595.84 415.96 601.42 C416.44 607 416.98 610.72 418.4 614.6 C419.82 618.49 421.95 621.87 424.48 624.75 C427.02 627.62 429.89 629.92 433.61 631.85 C437.33 633.77 442.16 635.36 446.8 636.31 C451.43 637.25 456.5 637.53 461.4 637.53 C466.3 637.53 471.54 637.25 476.21 636.31 C480.87 635.36 485.67 633.87 489.39 631.85 C493.11 629.82 496.09 627.18 498.52 624.14 C500.95 621.1 502.81 617.38 504 613.59 C505.18 609.8 505.38 606.83 505.62 601.42 C505.86 596.01 505.55 589.59 505.42 581.14 C505.28 572.68 504.98 559.67 504.81 550.71 C504.64 541.75 504.47 531.27 504.4 527.38" fill="none" stroke="#888" stroke-width="0.8" stroke-linejoin="round" stroke-linecap="round"/>
<path d="M416.37 578.7 L426.51 578.3 L428.13 567.95" fill="none" stroke="#222" stroke-width="0.9" stroke-linejoin="round" stroke-linecap="round"/>
<path d="M428.13 567.95 C428.71 567.17 427.8 566.57 431.58 563.29 C435.37 560.01 446.12 551.32 450.85 548.28 C455.58 545.23 457.44 545.71 459.98 545.03 C462.52 544.35 463.87 544.02 466.06 544.22 C468.26 544.42 468.94 543.48 473.16 546.25 C477.39 549.02 487.63 557.4 491.42 560.85 C495.21 564.3 495.14 565.92 495.88 566.94" fill="none" stroke="#222" stroke-width="0.9" stroke-linejoin="round" stroke-linecap="round"/>
<path d="M495.88 566.94 L497.51 581.14 L506.63 581.54" fill="none" stroke="#222" stroke-width="0.9" stroke-linejoin="round" stroke-linecap="round"/>
<path d="M420.43 575.46 L429.76 575.05 L430.97 568.97" fill="none" stroke="#888" stroke-width="0.7" stroke-linejoin="round" stroke-linecap="round"/>
<path d="M430.97 568.97 C431.58 568.22 431.14 567.48 434.62 564.5 C438.11 561.53 447.64 553.85 451.87 551.12 C456.09 548.38 457.61 548.72 459.98 548.07 C462.35 547.43 464.04 547.06 466.06 547.26 C468.09 547.46 468.33 546.69 472.15 549.29 C475.97 551.89 485.5 559.67 488.99 562.88 C492.47 566.09 492.37 567.61 493.04 568.56" fill="none" stroke="#888" stroke-width="0.7" stroke-linejoin="round" stroke-linecap="round"/>
<path d="M493.04 568.56 L494.26 578.09 L504.6 578.5" fill="none" stroke="#888" stroke-width="0.7" stroke-linejoin="round" stroke-linecap="round"/>
<circle cx="461.5" cy="594.8" r="23.9" fill="#fff" stroke="#666" stroke-width="0.8"/>
<circle cx="461.5" cy="594.8" r="20.4" fill="none" stroke="#555" stroke-width="0.8"/>
<circle cx="461.5" cy="594.8" r="15.8" fill="none" stroke="#000" stroke-width="1.15"/>
<path d="M462.2 557.6 A2.6 2.6 0 1 1 462.2 562.8" fill="none" stroke="#000" stroke-width="1" stroke-linejoin="round" stroke-linecap="round"/>
<circle cx="436.2" cy="619.7" r="2.7" fill="#fff" stroke="#000" stroke-width="1"/>
<path d="M487.5 617 A2.7 2.7 0 1 0 485.2 621.6" fill="none" stroke="#000" stroke-width="1" stroke-linejoin="round" stroke-linecap="round"/>
<line x1="461.5" y1="473.4" x2="461.5" y2="690.2" stroke="#000" stroke-width="1.15"/>
<line x1="365.8" y1="594.9" x2="557" y2="594.9" stroke="#6a6a6a" stroke-width="1.7"/>
<line x1="488" y1="478.3" x2="467.9" y2="478.3" stroke="#000" stroke-width="1.6"/>
<polygon points="461.9,478.3 474.4,474.7 474.4,481.9" fill="#000"/>
<text x="493" y="484" font-size="16" text-anchor="start">G</text>
<line x1="488" y1="682.8" x2="467.9" y2="682.8" stroke="#000" stroke-width="1.6"/>
<polygon points="461.9,682.8 474.4,679.2 474.4,686.4" fill="#000"/>
<text x="493" y="701" font-size="16" text-anchor="start">G</text>
<line x1="375.6" y1="621.2" x2="375.6" y2="601.5" stroke="#000" stroke-width="1.6"/>
<polygon points="375.6,595.5 379.2,608 372,608" fill="#000"/>
<text x="375.6" y="640" font-size="16" text-anchor="middle">H</text>
<line x1="548.1" y1="621.2" x2="548.1" y2="601.5" stroke="#000" stroke-width="1.6"/>
<polygon points="548.1,595.5 551.7,608 544.5,608" fill="#000"/>
<text x="548.1" y="640" font-size="16" text-anchor="middle">H</text>
<line x1="427.4" y1="503.6" x2="477.8" y2="503.6" stroke="#222" stroke-width="1"/>
<polygon points="461,503.6 452.1,506 452.1,501.2" fill="#000"/>
<polygon points="461.9,503.6 470.8,501.2 470.8,506" fill="#000"/>
<text x="431.3" y="500.5" font-size="10.7" text-anchor="start">0.4</text>
<path d="M501.5 503 L486.4 503 L454.5 576" fill="none" stroke="#000" stroke-width="1" stroke-linejoin="round" stroke-linecap="round"/>
<polygon points="463.3,558.5 464.72,549.52 468.93,551.36" fill="#000"/>
<polygon points="460.3,563.3 458.88,572.28 454.67,570.44" fill="#000"/>
<text x="503.8" y="506.4" font-size="10.7">3X<tspan dx="5.5" font-style="italic">&#981;</tspan><tspan dx="5.5">9.5</tspan></text>
<path d="M539.3 559 L525 559 L434.1 610.2" fill="none" stroke="#000" stroke-width="1" stroke-linejoin="round" stroke-linecap="round"/>
<polygon points="475.27,587.05 481.81,580.72 484.06,584.73" fill="#000"/>
<polygon points="447.73,602.55 441.19,608.88 438.94,604.87" fill="#000"/>
<text x="543.4" y="562" font-size="10.7"><tspan font-style="italic">&#981;</tspan><tspan dx="4.5">50</tspan></text>
<line x1="380.6" y1="560.2" x2="461" y2="560.2" stroke="#000" stroke-width="1"/>
<line x1="388.4" y1="523.6" x2="388.4" y2="611.4" stroke="#222" stroke-width="1"/>
<polygon points="388.4,560.2 386,551.3 390.8,551.3" fill="#000"/>
<polygon points="388.4,595.5 390.8,604.4 386,604.4" fill="#000"/>
<text x="364.8" y="544.5" font-size="10.7" text-anchor="start">53.8</text>
<line x1="395.3" y1="620.3" x2="436" y2="620.3" stroke="#000" stroke-width="1"/>
<line x1="399.3" y1="580.3" x2="399.3" y2="654.2" stroke="#222" stroke-width="1"/>
<polygon points="399.3,594.5 396.9,585.6 401.7,585.6" fill="#000"/>
<polygon points="399.3,620.6 401.7,629.5 396.9,629.5" fill="#000"/>
<text x="401.7" y="645.4" font-size="10.7" text-anchor="start">38.9</text>
<line x1="485.3" y1="620.3" x2="528.4" y2="620.3" stroke="#000" stroke-width="1.2"/>
<line x1="525" y1="577.9" x2="525" y2="654.2" stroke="#222" stroke-width="1"/>
<polygon points="525,594.5 522.6,585.6 527.4,585.6" fill="#000"/>
<polygon points="525,620.6 527.4,629.5 522.6,629.5" fill="#000"/>
<text x="502.8" y="645.4" font-size="10.7" text-anchor="start">38.4</text>
<line x1="485.2" y1="620" x2="485.2" y2="667.5" stroke="#000" stroke-width="1"/>
<line x1="446.1" y1="661.2" x2="520" y2="661.2" stroke="#222" stroke-width="1"/>
<polygon points="461,661.2 452.1,663.6 452.1,658.8" fill="#000"/>
<polygon points="485.4,661.2 494.3,658.8 494.3,663.6" fill="#000"/>
<text x="496.4" y="670.8" font-size="10.7" text-anchor="start">37.4</text>
<line x1="436.2" y1="620" x2="436.2" y2="675" stroke="#000" stroke-width="1"/>
<line x1="399.3" y1="671.5" x2="478.1" y2="671.5" stroke="#222" stroke-width="1"/>
<polygon points="436.2,671.5 427.3,673.9 427.3,669.1" fill="#000"/>
<polygon points="461.8,671.5 470.7,669.1 470.7,673.9" fill="#000"/>
<text x="402" y="681" font-size="10.7" text-anchor="start">40.0</text>
<text x="607.5" y="506.1" font-size="16" text-anchor="middle">G - G</text>
<path d="M573.83 521.83 L589.3 521.83" fill="none" stroke="#000" stroke-width="1.1" stroke-linejoin="round" stroke-linecap="round"/>
<path d="M573.83 524.04 L588.07 524.04" fill="none" stroke="#000" stroke-width="1.1" stroke-linejoin="round" stroke-linecap="round"/>
<path d="M573.83 521.83 L573.83 524.04" fill="none" stroke="#000" stroke-width="1.1" stroke-linejoin="round" stroke-linecap="round"/>
<path d="M589.3 521.83 C589.71 522.28 590.53 520.56 591.76 524.53 C592.99 528.5 595.44 541.73 596.67 545.66 C597.9 549.59 597.82 547.38 599.13 548.11 C600.44 548.85 603.3 549.18 604.53 550.08 C605.76 550.98 605.96 551.63 606.5 553.52 C607.03 555.4 607.52 560.07 607.73 561.38" fill="none" stroke="#000" stroke-width="1.1" stroke-linejoin="round" stroke-linecap="round"/>
<path d="M588.07 524.04 C588.36 524.45 588.69 522.61 589.79 526.5 C590.9 530.39 593.48 543.45 594.71 547.38 C595.93 551.31 595.85 549.3 597.16 550.08 C598.47 550.86 601.38 551.27 602.57 552.04 C603.75 552.82 603.8 553.11 604.29 554.75 C604.78 556.38 605.31 560.68 605.51 561.87" fill="none" stroke="#000" stroke-width="1.1" stroke-linejoin="round" stroke-linecap="round"/>
<path d="M601.09 563.83 L611.41 561.87" fill="none" stroke="#000" stroke-width="1.1" stroke-linejoin="round" stroke-linecap="round"/>
<path d="M601.58 565.8 L611.41 563.83" fill="none" stroke="#000" stroke-width="1.1" stroke-linejoin="round" stroke-linecap="round"/>
<path d="M606.5 566.29 C606.62 567.23 607.48 570.3 607.23 571.94 C606.99 573.58 605.47 574.89 605.02 576.12 C604.57 577.34 604.29 578.49 604.53 579.31 C604.78 580.13 606.17 580.74 606.5 581.03" fill="none" stroke="#000" stroke-width="1.1" stroke-linejoin="round" stroke-linecap="round"/>
<path d="M608.46 565.8 C608.54 566.82 609.2 570.22 608.95 571.94 C608.71 573.66 607.32 574.89 606.99 576.12 C606.66 577.34 606.99 578.78 606.99 579.31" fill="none" stroke="#000" stroke-width="1.1" stroke-linejoin="round" stroke-linecap="round"/>
<line x1="607" y1="582" x2="607" y2="607.5" stroke="#222" stroke-width="0.9" stroke-dasharray="10 3"/>
<path d="M604.53 610.51 C604.7 611.04 603.88 612.55 605.51 613.7 C607.15 614.85 612.56 616.16 614.36 617.38 C616.16 618.61 615.5 617.79 616.32 621.07 C617.14 624.34 618.37 634.05 619.27 637.04 C620.17 640.02 619.15 638.59 621.73 639 C624.31 639.41 632.58 639.41 634.75 639.49" fill="none" stroke="#000" stroke-width="1.1" stroke-linejoin="round" stroke-linecap="round"/>
<path d="M606.99 610.01 C607.15 610.34 606.42 611.04 607.97 611.98 C609.53 612.92 614.56 614.44 616.32 615.66 C618.08 616.89 617.71 616.11 618.53 619.35 C619.35 622.58 620.46 632.12 621.24 635.07 C622.01 638.02 620.95 636.63 623.2 637.04 C625.45 637.44 632.82 637.44 634.75 637.53" fill="none" stroke="#000" stroke-width="1.1" stroke-linejoin="round" stroke-linecap="round"/>
<path d="M604.53 610.51 L606.99 610.01" fill="none" stroke="#000" stroke-width="1.1" stroke-linejoin="round" stroke-linecap="round"/>
<path d="M634.75 637.53 L634.75 639.49" fill="none" stroke="#000" stroke-width="1.1" stroke-linejoin="round" stroke-linecap="round"/>
<path d="M637.2 637.77 L662.99 638.26" fill="none" stroke="#000" stroke-width="1.1" stroke-linejoin="round" stroke-linecap="round"/>
<path d="M637.2 639.74 L662.99 640.23" fill="none" stroke="#000" stroke-width="1.1" stroke-linejoin="round" stroke-linecap="round"/>
<line x1="569.2" y1="595.2" x2="607" y2="595.2" stroke="#111" stroke-width="1"/>
<line x1="569.2" y1="596.2" x2="607" y2="595.2" stroke="#111" stroke-width="1"/>
<line x1="613" y1="595.2" x2="628.6" y2="595.2" stroke="#222" stroke-width="0.9"/>
<line x1="573.3" y1="580.5" x2="573.3" y2="594.8" stroke="#000" stroke-width="1"/>
<polygon points="573.3,594.8 571,586 575.6,586" fill="#000"/>
<line x1="576.5" y1="612" x2="573.6" y2="596.5" stroke="#000" stroke-width="1"/>
<polygon points="573.6,596.5 577.48,604.73 572.96,605.57" fill="#000"/>
<text x="568" y="622.8" font-size="10.7">1.8<tspan dx="5.5" font-size="9">&#176;</tspan></text>
<line x1="655.6" y1="621.8" x2="655.6" y2="673.9" stroke="#222" stroke-width="1"/>
<polygon points="655.6,638 653.2,629.1 658,629.1" fill="#000"/>
<polygon points="655.6,640.3 658,649.2 653.2,649.2" fill="#000"/>
<text x="636" y="666" font-size="10.7" text-anchor="start">2.3</text>
<path d="M76.09 769.35 L93.48 767.61 L121.74 767.39 L141.3 769.13 L193.48 770.65" fill="none" stroke="#222" stroke-width="0.8" stroke-linejoin="round" stroke-linecap="round"/>
<path d="M93.48 767.61 L103.26 770.65" fill="none" stroke="#333" stroke-width="0.8" stroke-linejoin="round" stroke-linecap="round"/>
<path d="M98.91 768.7 L121.74 769.78 L145.65 773.26" fill="none" stroke="#333" stroke-width="0.8" stroke-linejoin="round" stroke-linecap="round"/>
<path d="M121.74 767.39 L115.22 770.65" fill="none" stroke="#555" stroke-width="0.7" stroke-linejoin="round" stroke-linecap="round"/>
<path d="M78.26 770.22 L121.74 768.91 L141.3 770.22" fill="none" stroke="#444" stroke-width="0.7" stroke-linejoin="round" stroke-linecap="round"/>
<line x1="145.65" y1="773.37" x2="200" y2="773.37" stroke="#000" stroke-width="1.3"/>
<path d="M73.91 774.13 L58.26 806.74" fill="none" stroke="#111" stroke-width="1.1" stroke-linejoin="round" stroke-linecap="round"/>
<path d="M72.61 774.57 L60.87 799.57" fill="none" stroke="#333" stroke-width="0.8" stroke-linejoin="round" stroke-linecap="round"/>
<path d="M70.65 783.26 L64.13 797.39 L64.78 811.96" fill="none" stroke="#111" stroke-width="0.9" stroke-linejoin="round" stroke-linecap="round"/>
<path d="M64.78 811.96 C64.93 812.5 65.04 814.53 65.65 815.22 C66.27 815.91 64.57 816.23 68.48 816.09 C72.39 815.94 85.69 814.64 89.13 814.35" fill="none" stroke="#111" stroke-width="0.9" stroke-linejoin="round" stroke-linecap="round"/>
<path d="M89.13 814.35 L101.52 804.78 L102.83 798.91" fill="none" stroke="#111" stroke-width="0.9" stroke-linejoin="round" stroke-linecap="round"/>
<path d="M102.83 798.91 C103.08 798.55 102.28 797.32 104.35 796.74 C106.41 796.16 111.16 795.94 115.22 795.43 C119.28 794.93 126.01 793.7 128.7 793.7 C131.38 793.7 130.72 794.57 131.3 795.43 C131.88 796.3 131.41 797.86 132.17 798.91 C132.93 799.96 135.25 801.27 135.87 801.74" fill="none" stroke="#111" stroke-width="0.9" stroke-linejoin="round" stroke-linecap="round"/>
<path d="M135.87 801.74 C138.59 801.49 145.91 800.91 152.17 800.22 C158.44 799.53 169.42 798.51 173.48 797.61 C177.54 796.7 175.91 796.45 176.52 794.78 C177.14 793.12 177.07 788.8 177.17 787.61" fill="none" stroke="#111" stroke-width="0.9" stroke-linejoin="round" stroke-linecap="round"/>
<path d="M177.17 787.61 L173.91 775.87" fill="none" stroke="#111" stroke-width="0.9" stroke-linejoin="round" stroke-linecap="round"/>
<path d="M175.65 775.87 L181.74 793.26 L180.22 793.91 L178.04 787.61" fill="none" stroke="#111" stroke-width="0.9" stroke-linejoin="round" stroke-linecap="round"/>
<path d="M70.65 783.26 C74.46 783.8 84.96 785.58 93.48 786.52 C101.99 787.46 111.59 788.44 121.74 788.91 C131.88 789.38 145.11 789.38 154.35 789.35 C163.59 789.31 173.37 788.8 177.17 788.7" fill="none" stroke="#333" stroke-width="0.8" stroke-linejoin="round" stroke-linecap="round"/>
<path d="M64.13 796.74 L121.74 791.09 L131.52 791.09" fill="none" stroke="#333" stroke-width="0.8" stroke-linejoin="round" stroke-linecap="round"/>
<line x1="50.9" y1="771.2" x2="213.2" y2="771.2" stroke="#111" stroke-width="1.1"/>
<line x1="50.9" y1="773.2" x2="213.2" y2="773.2" stroke="#111" stroke-width="1.1"/>
<line x1="123.3" y1="747.5" x2="119.3" y2="823" stroke="#222" stroke-width="0.9" stroke-dasharray="22 3 3 3"/>
<line x1="56.1" y1="736.8" x2="56.1" y2="788.7" stroke="#222" stroke-width="1"/>
<polygon points="56.1,770.7 53.7,761.8 58.5,761.8" fill="#000"/>
<polygon points="56.1,773.7 58.5,782.6 53.7,782.6" fill="#000"/>
<text x="57.5" y="751.9" font-size="10.7" text-anchor="start">2.4</text>
<line x1="187.4" y1="736.8" x2="187.4" y2="788.7" stroke="#222" stroke-width="1"/>
<polygon points="187.4,770.7 185,761.8 189.8,761.8" fill="#000"/>
<polygon points="187.4,773.7 189.8,782.6 185,782.6" fill="#000"/>
<text x="168.6" y="752.8" font-size="10.7" text-anchor="start">2.4</text>
<line x1="208.3" y1="754.2" x2="208.3" y2="811.3" stroke="#222" stroke-width="1"/>
<polygon points="208.3,770.7 205.9,761.8 210.7,761.8" fill="#000"/>
<polygon points="208.3,773.7 210.7,782.6 205.9,782.6" fill="#000"/>
<text x="191.7" y="801.2" font-size="10.7" text-anchor="start">4.9</text>
<text x="303.7" y="710.7" font-size="16" text-anchor="middle">F - F</text>
<text x="311" y="728.2" font-size="10.7">3.2<tspan dx="5.5" font-size="9">&#176;</tspan></text>
<line x1="298.8" y1="730.5" x2="298.8" y2="770" stroke="#111" stroke-width="1"/>
<line x1="296.3" y1="726.7" x2="301.7" y2="815.3" stroke="#222" stroke-width="0.9" stroke-dasharray="20 3 3 3"/>
<line x1="279.9" y1="739.6" x2="298.2" y2="736.9" stroke="#000" stroke-width="1"/>
<polygon points="298.2,736.9 289.83,740.46 289.16,735.91" fill="#000"/>
<line x1="314.8" y1="737.7" x2="299.6" y2="736.9" stroke="#000" stroke-width="1"/>
<polygon points="299.6,736.9 308.51,735.07 308.27,739.66" fill="#000"/>
<path d="M243.56 787.59 L248.84 773.27 L274.84 771.39 L274.46 768.75 L276.53 768.56 L277.1 773.84 L250.72 775.72 L245.83 788.72 L243.56 787.59" fill="none" stroke="#000" stroke-width="1.1" stroke-linejoin="round" stroke-linecap="round"/>
<line x1="277.5" y1="771.4" x2="319.5" y2="769.2" stroke="#222" stroke-width="0.9" stroke-dasharray="12 3"/>
<path d="M321.18 766.3 L323.44 766.11 L323.63 769.13 L343.04 767.24 L344.92 768.75 L351.51 781.75 L349.44 782.69 L343.04 769.88 L342.28 769.5 L321.75 771.57 L321.18 766.3" fill="none" stroke="#000" stroke-width="1.1" stroke-linejoin="round" stroke-linecap="round"/>
<path d="M425.07 749.2 C425.17 747.37 425.17 740.7 425.65 738.19 C426.14 735.68 425.65 734.71 427.97 734.13 C430.29 733.55 437.63 734.61 439.57 734.71" fill="none" stroke="#111" stroke-width="1" stroke-linejoin="round" stroke-linecap="round"/>
<path d="M439.57 734.71 C442.46 735.05 449.23 735.92 456.96 736.74 C464.69 737.56 479.18 739.01 485.94 739.64 C492.71 740.27 495.22 739.88 497.54 740.51 C499.86 741.14 499.28 740.65 499.86 743.41 C500.43 746.16 500.82 754.76 501.01 757.03" fill="none" stroke="#111" stroke-width="1" stroke-linejoin="round" stroke-linecap="round"/>
<line x1="459.3" y1="736.7" x2="459.3" y2="751.2" stroke="#333" stroke-width="0.8"/>
<line x1="467.1" y1="737.5" x2="467.1" y2="752" stroke="#333" stroke-width="0.8"/>
<line x1="462" y1="737" x2="462" y2="751.5" stroke="#999" stroke-width="0.6"/>
<line x1="464.5" y1="737.2" x2="464.5" y2="751.7" stroke="#999" stroke-width="0.6"/>
<path d="M413.48 770.07 C413.72 768.14 414.2 761.76 414.93 758.48 C415.65 755.19 416.86 751.91 417.83 750.36 C418.79 748.82 420.24 749.4 420.72 749.2" fill="none" stroke="#111" stroke-width="1" stroke-linejoin="round" stroke-linecap="round"/>
<path d="M420.72 749.2 L456.96 752.1 L506.23 758.48" fill="none" stroke="#111" stroke-width="1" stroke-linejoin="round" stroke-linecap="round"/>
<path d="M506.23 758.48 C506.52 760.89 507.49 768.14 507.97 772.97 C508.45 777.8 509.03 783.5 509.13 787.46 C509.23 791.43 508.65 795.19 508.55 796.74" fill="none" stroke="#111" stroke-width="1" stroke-linejoin="round" stroke-linecap="round"/>
<path d="M508.55 796.74 L501.88 798.19 L474.93 799.06 L473.77 802.54 L443.91 800.22 L442.46 795.58 L432.32 792.68 L412.03 786.3 L411.45 783.99 L413.48 770.07" fill="none" stroke="#111" stroke-width="1" stroke-linejoin="round" stroke-linecap="round"/>
<path d="M420.72 752.68 C420.24 754.13 418.55 757.27 417.83 761.38 C417.1 765.48 416.62 774.66 416.38 777.32" fill="none" stroke="#666" stroke-width="0.7" stroke-linejoin="round" stroke-linecap="round"/>
<path d="M416.38 777.32 C418.31 777.66 424.11 778.82 427.97 779.35 C431.84 779.88 437.63 780.31 439.57 780.51" fill="none" stroke="#666" stroke-width="0.7" stroke-linejoin="round" stroke-linecap="round"/>
<path d="M429.42 767.17 C429.9 765.72 427.73 760.02 432.32 758.48 C436.91 756.93 448.02 757.42 456.96 757.9 C465.89 758.38 479.18 760.22 485.94 761.38 C492.71 762.54 495.36 763.41 497.54 764.86 C499.71 766.3 498.74 769.2 498.99 770.07" fill="none" stroke="#777" stroke-width="0.7" stroke-linejoin="round" stroke-linecap="round"/>
<path d="M436.67 777.32 C437.15 776.35 436.67 772.92 439.57 771.52 C442.46 770.12 449.71 769.35 454.06 768.91 C458.41 768.48 463.72 768.91 465.65 768.91" fill="none" stroke="#333" stroke-width="0.9" stroke-linejoin="round" stroke-linecap="round"/>
<path d="M436.67 777.32 C438.12 777.95 440.53 780.27 445.36 781.09 C450.19 781.91 459.86 782.25 465.65 782.25 C471.45 782.25 477 781.91 480.14 781.09 C483.29 780.27 484.01 778.91 484.49 777.32 C484.98 775.72 483.29 772.49 483.04 771.52" fill="none" stroke="#555" stroke-width="0.8" stroke-linejoin="round" stroke-linecap="round"/>
<path d="M483.04 771.52 C484.49 772 489.32 773.45 491.74 774.42 C494.15 775.39 496.57 776.84 497.54 777.32" fill="none" stroke="#555" stroke-width="0.8" stroke-linejoin="round" stroke-linecap="round"/>
<path d="M474.35 785.43 C477.25 785.29 486.43 784.95 491.74 784.57 C497.05 784.18 503.82 783.36 506.23 783.12" fill="none" stroke="#777" stroke-width="0.7" stroke-linejoin="round" stroke-linecap="round"/>
<path d="M420.72 749.2 L421.59 754.13 L456.96 756.16 L504.78 762.83" fill="none" stroke="#777" stroke-width="0.7" stroke-linejoin="round" stroke-linecap="round"/>
<line x1="393.8" y1="769.6" x2="551.2" y2="769.6" stroke="#000" stroke-width="1.8"/>
<line x1="393.8" y1="777.3" x2="439.6" y2="777.3" stroke="#111" stroke-width="1"/>
<line x1="481.7" y1="783.1" x2="551.2" y2="783.1" stroke="#111" stroke-width="1.3"/>
<line x1="466.2" y1="720.8" x2="455.5" y2="829.5" stroke="#222" stroke-width="0.9" stroke-dasharray="22 3 3 3"/>
<line x1="398.4" y1="735.9" x2="398.4" y2="795.6" stroke="#222" stroke-width="1"/>
<polygon points="398.4,769.2 396,760.3 400.8,760.3" fill="#000"/>
<polygon points="398.4,777.6 400.8,786.5 396,786.5" fill="#000"/>
<text x="374.3" y="751.8" font-size="10.7" text-anchor="start">12.8</text>
<line x1="518.7" y1="735.9" x2="518.7" y2="788" stroke="#222" stroke-width="1"/>
<polygon points="518.7,769 516.3,760.1 521.1,760.1" fill="#000"/>
<polygon points="518.7,770.3 521.1,779.2 516.3,779.2" fill="#000"/>
<text x="522.2" y="751.8" font-size="10.7" text-anchor="start">0.6</text>
<line x1="545.9" y1="752.7" x2="545.9" y2="816.4" stroke="#222" stroke-width="1"/>
<polygon points="545.9,769.2 543.5,760.3 548.3,760.3" fill="#000"/>
<polygon points="545.9,783.4 548.3,792.3 543.5,792.3" fill="#000"/>
<text x="521.3" y="807.2" font-size="10.7" text-anchor="start">20.3</text>
<text x="622.2" y="709.8" font-size="16" text-anchor="middle">H - H</text>
<text x="638.2" y="732.6" font-size="10.7">5.5<tspan dx="5.5" font-size="9">&#176;</tspan></text>
<line x1="621.6" y1="730" x2="621.6" y2="769.7" stroke="#111" stroke-width="1"/>
<line x1="623.2" y1="725.4" x2="618.8" y2="814.5" stroke="#222" stroke-width="0.9" stroke-dasharray="20 3 3 3"/>
<line x1="605.2" y1="736.6" x2="621" y2="736" stroke="#000" stroke-width="1"/>
<polygon points="621,736 612.29,738.63 612.12,734.04" fill="#000"/>
<line x1="641.4" y1="739" x2="622.6" y2="736.3" stroke="#000" stroke-width="1"/>
<polygon points="622.6,736.3 631.64,735.27 630.98,739.83" fill="#000"/>
<path d="M571.68 783.84 L576.01 770.08 L577.9 769.33 L597.68 771.59 L599.94 770.08 L601.82 766.31 L604.27 765.37 L606.16 766.31" fill="none" stroke="#000" stroke-width="1.1" stroke-linejoin="round" stroke-linecap="round"/>
<path d="M571.68 783.84 L573.75 784.78 L577.9 771.97 L598.24 773.85 L601.45 771.97 L603.33 767.82 L605.78 768.2 L606.16 766.31" fill="none" stroke="#000" stroke-width="1.1" stroke-linejoin="round" stroke-linecap="round"/>
<line x1="606.5" y1="767.3" x2="636" y2="769.7" stroke="#222" stroke-width="0.9" stroke-dasharray="12 3"/>
<path d="M636.3 769.71 L638.75 768.95 L641.39 770.84 L643.84 774.98 L662.68 777.24 L664.56 779.13 L668.33 792.69 L666.25 793.63 L662.68 780.07 L661.73 779.5 L642.52 777.24 L639.88 772.72 L638 771.21 L636.3 769.71" fill="none" stroke="#000" stroke-width="1.1" stroke-linejoin="round" stroke-linecap="round"/>
</svg>
</body></html>
